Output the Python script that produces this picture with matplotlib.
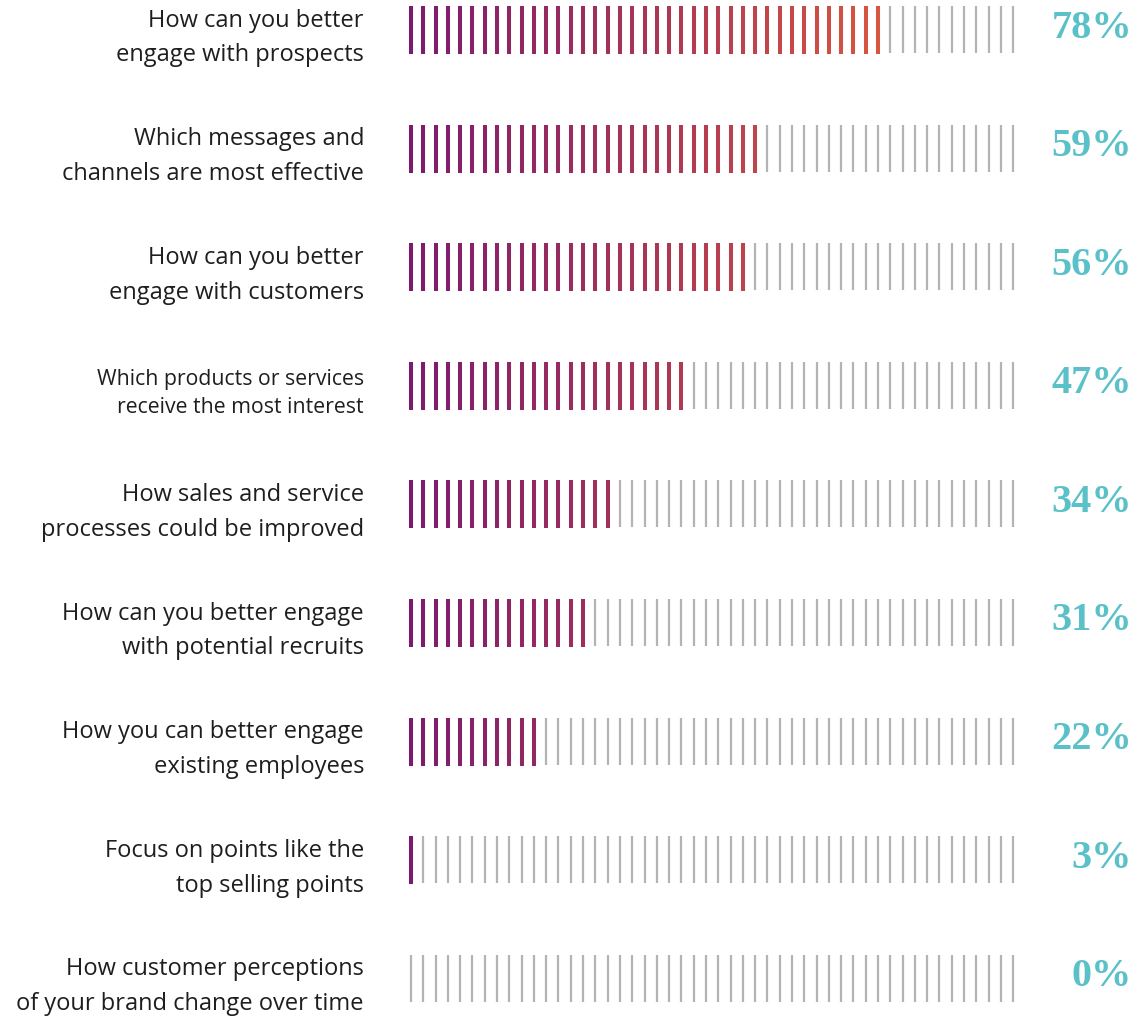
import matplotlib.pyplot as plt
import numpy as np
from matplotlib.colors import LinearSegmentedColormap

# survey answers, top to bottom
labels = [
    "How can you better\nengage with prospects",
    "Which messages and\nchannels are most effective",
    "How can you better\nengage with customers",
    "Which products or services\nreceive the most interest",
    "How sales and service\nprocesses could be improved",
    "How can you better engage\nwith potential recruits",
    "How you can better engage\nexisting employees",
    "Focus on points like the\ntop selling points",
    "How customer perceptions\nof your brand change over time",
]
percents = [78, 59, 56, 47, 34, 31, 22, 3, 0]
label_sizes = [17, 17, 17, 15.3, 17, 17, 17, 17, 17]
label_spacing = [1.6, 1.6, 1.6, 1.45, 1.6, 1.6, 1.6, 1.6, 1.6]

N_TICKS = 50  # one tick per 2%

W, H = 1133, 1017
X0, STEP = 411, 12.29
ROW_TOP, ROW_STEP, TICK_H = 6, 118.6, 47

grad = LinearSegmentedColormap.from_list("bars", ["#7B1A6F", "#A83556", "#D85540"])
GREY = "#B3B3B3"
TEAL = "#5BC1C8"

fig = plt.figure(figsize=(W / 100, H / 100), dpi=100)
ax = fig.add_axes([0, 0, 1, 1])
ax.set_xlim(0, W)
ax.set_ylim(H, 0)
ax.axis("off")

for i, (lab, pct, fs, ls) in enumerate(zip(labels, percents, label_sizes, label_spacing)):
    top = ROW_TOP + i * ROW_STEP
    filled = pct // 2
    xs = X0 + STEP * np.arange(N_TICKS)
    ax.vlines(xs[filled:], top, top + TICK_H, color=GREY, lw=1.6)
    for k in range(filled):
        ax.vlines(xs[k], top, top + TICK_H + 1, color=grad(k / 38), lw=2.9)

    ax.text(364, top + 32, lab, ha="right", va="center", fontsize=fs,
            family="Open Sans", color="#1E1E1E", linespacing=ls)
    ax.text(1132, top + 22, f"{pct}%", ha="right", va="center", fontsize=29,
            family="Liberation Serif", weight="bold", color=TEAL)

fig.savefig("out.png", dpi=100, facecolor="white")
